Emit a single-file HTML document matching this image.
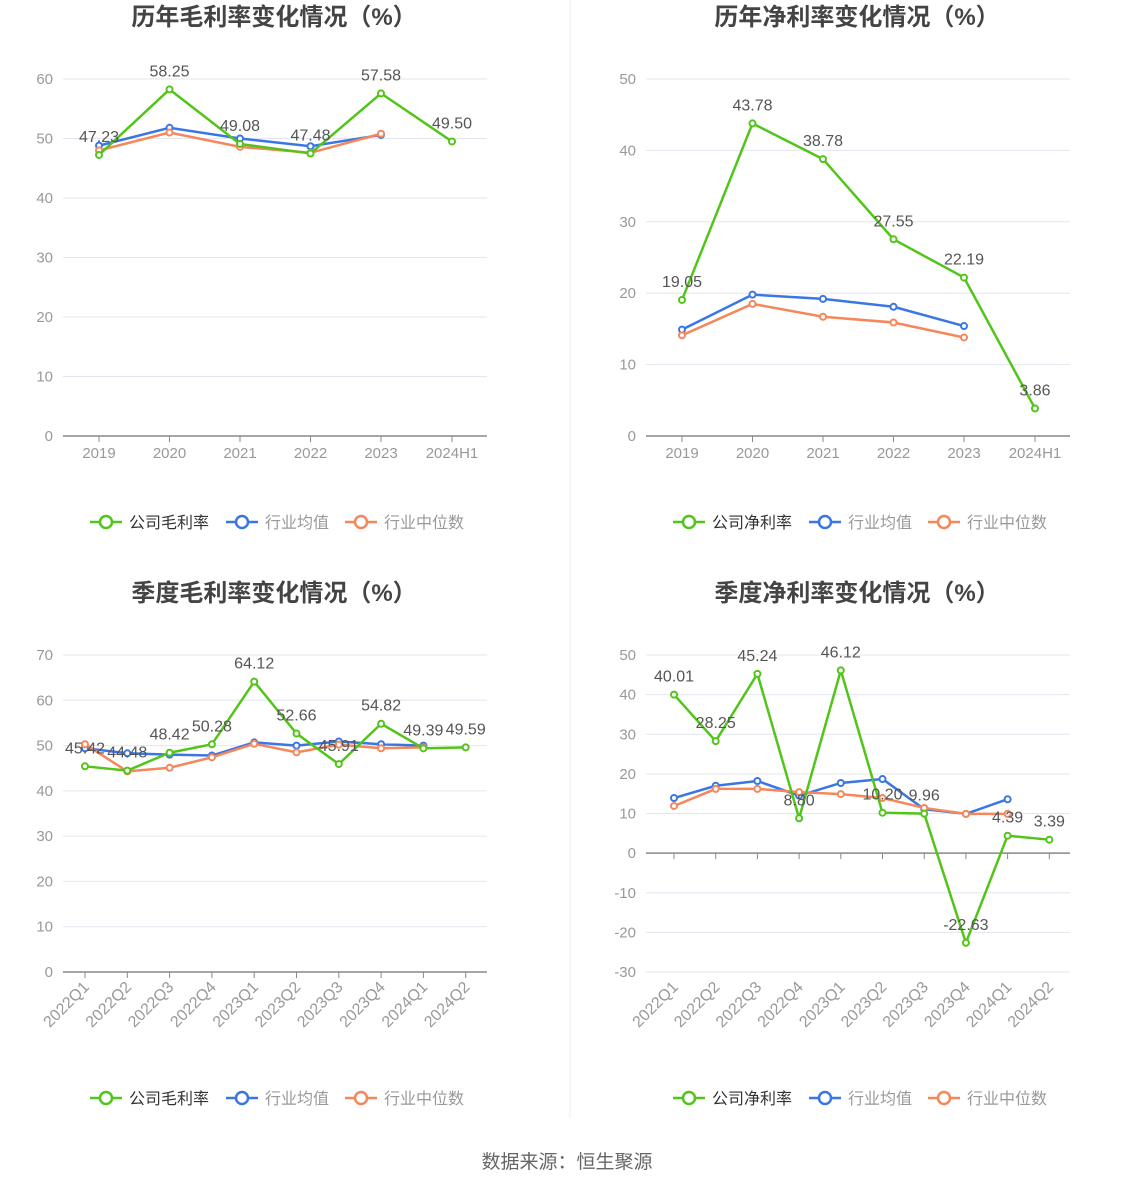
<!DOCTYPE html>
<html><head><meta charset="utf-8">
<style>
body{margin:0;background:#fff;}
svg text{font-family:"Liberation Sans","Noto Sans CJK SC",sans-serif;}
</style></head>
<body>
<svg id="s" width="1134" height="1188" xmlns="http://www.w3.org/2000/svg"></svg>
<script>
const G='#52c41a',B='#3a76e6',O='#f5875a';
let h='';
function chart(o){
  const {x0,x1,ytop,ybot,min,max,step,cats,xs,title,ty,ly,rot,series,labels,names}=o;
  const Y=v=>ybot-(v-min)/(max-min)*(ybot-ytop);
  h+=`<text x="${(x0+x1)/2-1}" y="${ty}" text-anchor="middle" font-size="24" font-weight="bold" fill="#444">${title}</text>`;
  for(let v=min;v<=max+1e-9;v+=step){
    const y=Y(v);
    if(v!==0) h+=`<line x1="${x0}" y1="${y}" x2="${x1}" y2="${y}" stroke="#e3e6f0" stroke-width="1"/>`;
    h+=`<text x="${x0-10}" y="${y+5}" text-anchor="end" font-size="15" fill="#999">${v}</text>`;
  }
  const y0=Y(0);
  h+=`<line x1="${x0}" y1="${y0}" x2="${x1}" y2="${y0}" stroke="#888" stroke-width="1.5"/>`;
  cats.forEach((c,i)=>{
    const x=xs[i];
    h+=`<line x1="${x}" y1="${y0}" x2="${x}" y2="${y0+6}" stroke="#888" stroke-width="1"/>`;
    if(rot) h+=`<text transform="translate(${x+5},${ybot+16}) rotate(-45)" text-anchor="end" font-size="16" fill="#999">${c}</text>`;
    else h+=`<text x="${x}" y="${ybot+22}" text-anchor="middle" font-size="15" fill="#999">${c}</text>`;
  });
  [[series[1],B],[series[2],O],[series[0],G]].forEach(([d,c])=>{
    const pts=d.map((v,i)=>[xs[i],Y(v)]);
    h+=`<polyline points="${pts.map(p=>p.join(',')).join(' ')}" fill="none" stroke="${c}" stroke-width="2.5"/>`;
    pts.forEach(p=>h+=`<circle cx="${p[0]}" cy="${p[1]}" r="3" fill="#fff" stroke="${c}" stroke-width="2"/>`);
  });
  series[0].forEach((v,i)=>{
    h+=`<text x="${xs[i]}" y="${Y(v)-13}" text-anchor="middle" font-size="16" fill="#555">${labels[i]}</text>`;
  });
  const lx=[90,226,345],cols=[G,B,O];
  names.forEach((n,i)=>{
    const x=lx[i];
    h+=`<line x1="${x}" y1="${ly}" x2="${x+32}" y2="${ly}" stroke="${cols[i]}" stroke-width="2.5"/>`;
    h+=`<circle cx="${x+16}" cy="${ly}" r="6" fill="#fff" stroke="${cols[i]}" stroke-width="2.5"/>`;
    h+=`<text x="${x+39}" y="${ly+6}" font-size="16" text-anchor="start" fill="${i==0?'#333':'#999'}">${n}</text>`;
  });
}
const yrs=['2019','2020','2021','2022','2023','2024H1'];
const qs=['2022Q1','2022Q2','2022Q3','2022Q4','2023Q1','2023Q2','2023Q3','2023Q4','2024Q1','2024Q2'];
const xsA=[99,169.5,240,310.5,381,452];
const xsQL=qs.map((_,i)=>85+i*42.3);
const xsQR=qs.map((_,i)=>674+i*41.7);
chart({x0:63,x1:487,ytop:79,ybot:436,min:0,max:60,step:10,cats:yrs,xs:xsA,title:'历年毛利率变化情况（%）',ty:25,ly:522,
 series:[[47.23,58.25,49.08,47.48,57.58,49.50],[48.8,51.8,50.0,48.7,50.6],[48.0,51.0,48.6,47.6,50.8]],
 labels:['47.23','58.25','49.08','47.48','57.58','49.50'],names:['公司毛利率','行业均值','行业中位数']});
const s=h; h='';
chart({x0:646,x1:1070,ytop:79,ybot:436,min:0,max:50,step:10,cats:yrs,xs:xsA.map(x=>x+583),title:'历年净利率变化情况（%）',ty:25,ly:522,
 series:[[19.05,43.78,38.78,27.55,22.19,3.86],[14.9,19.8,19.2,18.1,15.4],[14.1,18.5,16.7,15.9,13.8]],
 labels:['19.05','43.78','38.78','27.55','22.19','3.86'],names:['公司净利率','行业均值','行业中位数']});
let right1=h; h='';
chart({x0:63,x1:487,ytop:655,ybot:972,min:0,max:70,step:10,cats:qs,xs:xsQL,title:'季度毛利率变化情况（%）',ty:601,ly:1098,rot:true,
 series:[[45.42,44.48,48.42,50.28,64.12,52.66,45.91,54.82,49.39,49.59],[49.4,48.3,48.0,47.8,50.7,50.0,50.9,50.3,50.0],[50.3,44.3,45.1,47.4,50.4,48.5,50.2,49.4,49.6]],
 labels:['45.42','44.48','48.42','50.28','64.12','52.66','45.91','54.82','49.39','49.59'],names:['公司毛利率','行业均值','行业中位数']});
const s3=h; h='';
chart({x0:646,x1:1070,ytop:655,ybot:972,min:-30,max:50,step:10,cats:qs,xs:xsQR,title:'季度净利率变化情况（%）',ty:601,ly:1098,rot:true,
 series:[[40.01,28.25,45.24,8.80,46.12,10.20,9.96,-22.63,4.39,3.39],[13.9,17.0,18.2,14.5,17.7,18.7,11.1,9.9,13.6],[11.9,16.2,16.2,15.4,14.9,13.9,11.4,9.9,9.9]],
 labels:['40.01','28.25','45.24','8.80','46.12','10.20','9.96','-22.63','4.39','3.39'],names:['公司净利率','行业均值','行业中位数']});
let right2=h;
function mv(str){
  return str.replace(/<line x1="(\d+)" y1="(522|1098)" x2="(\d+)"/g,(m,a,y,b)=>`<line x1="${+a+583}" y1="${y}" x2="${+b+583}"`)
            .replace(/<circle cx="(\d+)" cy="(522|1098)"/g,(m,a,y)=>`<circle cx="${+a+583}" cy="${y}"`)
            .replace(/<text x="(\d+)" y="(528|1104)" font-size="16"/g,(m,a,y)=>`<text x="${+a+583}" y="${y}" font-size="16"`);
}
let out='<line x1="570" y1="0" x2="570" y2="1118" stroke="#eeeeee" stroke-width="1"/>'+s+mv(right1)+s3+mv(right2);
out+='<text x="567" y="1168" text-anchor="middle" font-size="19" fill="#666">数据来源：恒生聚源</text>';
document.getElementById('s').innerHTML=out;
</script>
</body></html>
